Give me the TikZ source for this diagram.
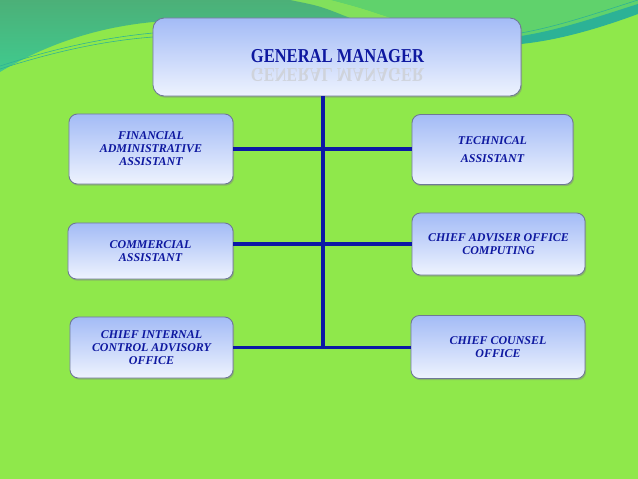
\documentclass[tikz,border=0pt]{standalone}
\usepackage{fontspec}
\setmainfont{Liberation Serif}
\newfontfamily\gmfont[FakeStretch=0.84]{Liberation Serif}
\usepackage{tikz}
\usetikzlibrary{positioning,calc,shadows}

\definecolor{bggreen}{RGB}{143,232,75}
\definecolor{bgdark}{RGB}{76,176,120}
\definecolor{bgteal}{RGB}{58,214,152}
\definecolor{bgmid}{RGB}{96,210,108}
\definecolor{bglight}{RGB}{130,224,92}
\definecolor{swoosh}{RGB}{44,178,150}
\definecolor{boxtop}{RGB}{163,187,246}
\definecolor{boxbot}{RGB}{238,243,254}
\definecolor{boxedge}{RGB}{110,120,150}
\definecolor{txtblue}{RGB}{14,24,160}
\definecolor{linkblue}{RGB}{12,24,165}

\begin{document}
\begin{tikzpicture}[
    x=0.025cm, y=-0.025cm,
    box/.style={
        draw=boxedge,
        line width=0.6pt,
        rounded corners=6pt,
        top color=boxtop,
        bottom color=boxbot,
        drop shadow={opacity=0.45, shadow xshift=0.8pt, shadow yshift=-1.2pt},
        align=center,
        inner sep=2pt,
        text=txtblue,
        font=\bfseries\itshape\fontsize{8.5}{9.3}\selectfont
    },
    gmbox/.style={box, rounded corners=8pt, font=\gmfont\bfseries\fontsize{14}{16}\selectfont},
    link/.style={draw=linkblue, line width=2.3pt}
]
\useasboundingbox (0,0) rectangle (638,479);

% background
\fill[bggreen] (0,0) rectangle (638,479);
\fill[bgmid] (330,0) -- (638,0) -- (638,8) .. controls (590,25) and (550,36) .. (521,42)
    -- (400,42) -- (390,18) .. controls (360,8) .. (330,0) -- cycle;
\fill[bglight] (290,0) -- (330,0) .. controls (360,8) .. (390,18) -- (350,18)
    .. controls (320,6) .. (290,0) -- cycle;
\shade[top color=bgdark, bottom color=bgteal!70!bgdark] (0,0) -- (290,0) .. controls (320,6) .. (350,18)
    -- (350,30) -- (153,22) .. controls (90,28) and (40,48) .. (0,72) -- cycle;
\fill[swoosh] (521,36) .. controls (560,30) and (600,16) .. (638,4) -- (638,14)
    .. controls (600,28) and (560,40) .. (521,44) -- cycle;
\draw[swoosh, line width=0.4pt] (521,33) .. controls (560,26) and (600,12) .. (638,0);
\draw[swoosh, line width=0.4pt] (0,66) .. controls (50,50) and (100,38) .. (153,33);
\draw[swoosh, line width=0.4pt] (0,69) .. controls (50,53) and (100,41) .. (153,37);

% boxes
\node[gmbox, minimum width=9.2cm, minimum height=1.95cm] (gm) at (337,57) {};
\node[font=\gmfont\bfseries\fontsize{14}{16}\selectfont, text=txtblue] (gmtxt) at (337.5,56.5) {GENERAL MANAGER};
\node[font=\gmfont\bfseries\fontsize{14}{16}\selectfont, text=gray!28!boxbot, below=-3.5pt of gmtxt] (gmrefl)
    {\scalebox{1}[-1]{GENERAL MANAGER}};

\node[box, minimum width=4.1cm, minimum height=1.75cm] (fin) at (151,149) {FINANCIAL\\ADMINISTRATIVE\\ASSISTANT};
\node[box, minimum width=4.025cm, minimum height=1.75cm] (tech) at (492.5,149.5) {TECHNICAL\\[4pt]ASSISTANT};
\node[box, minimum width=4.125cm, minimum height=1.4cm] (com) at (150.5,251) {COMMERCIAL\\ASSISTANT};
\node[box, minimum width=4.325cm, minimum height=1.55cm] (adv) at (498.5,244) {CHIEF ADVISER OFFICE\\COMPUTING};
\node[box, minimum width=4.075cm, minimum height=1.525cm] (ctrl) at (151.5,347.5) {CHIEF INTERNAL\\CONTROL ADVISORY\\OFFICE};
\node[box, minimum width=4.35cm, minimum height=1.575cm] (counsel) at (498,347) {CHIEF COUNSEL\\OFFICE};

% connectors
\coordinate (trunk) at (323,348);
\draw[link] (gm.south -| trunk) -- (trunk);
\draw[link] (fin.east) -- (fin.east -| tech.west);
\draw[link] (adv.west) -- (adv.west -| com.east);
\draw[link] (ctrl.east) -- (ctrl.east -| counsel.west);
\end{tikzpicture}
\end{document}
